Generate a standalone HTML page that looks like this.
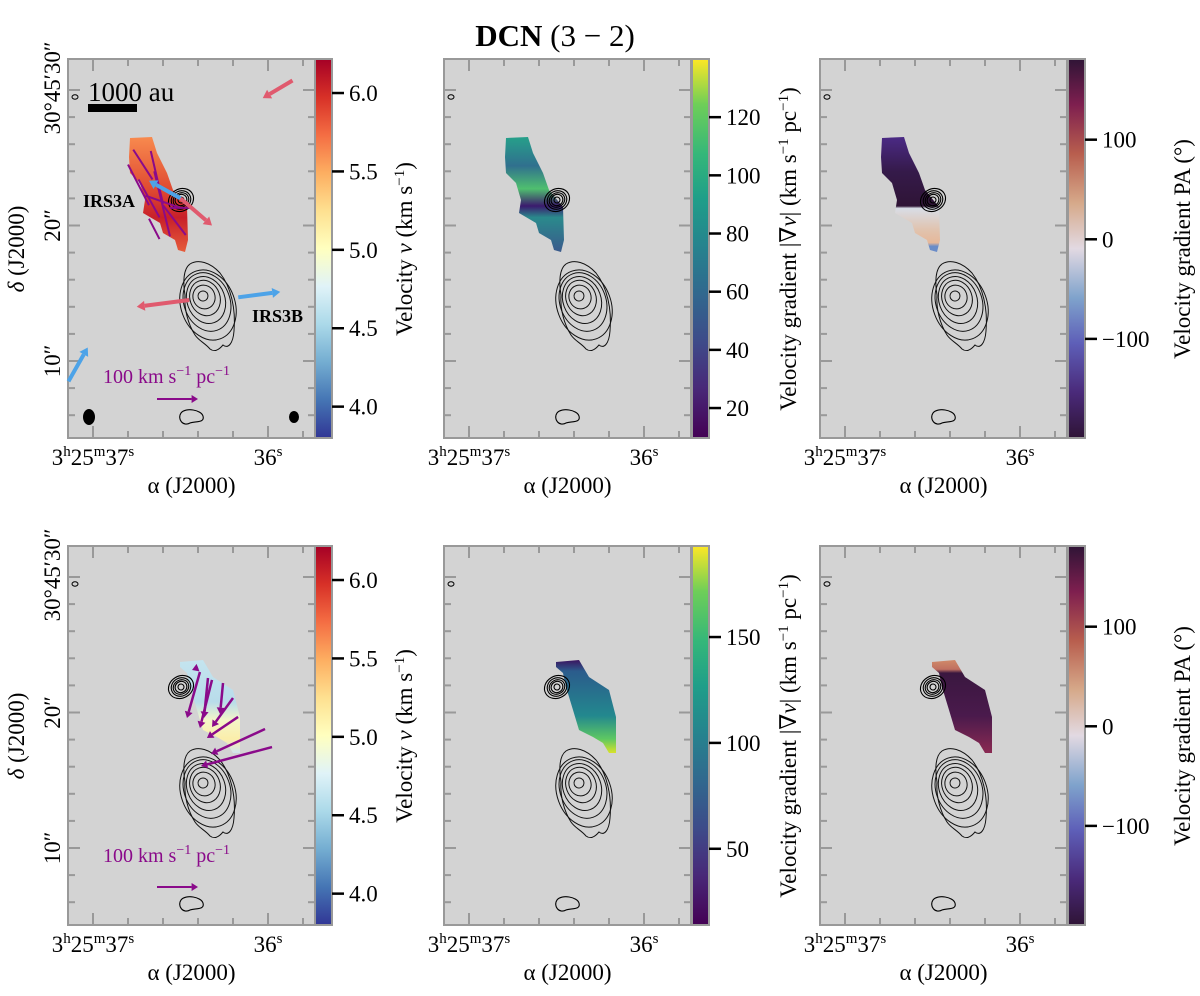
<!DOCTYPE html>
<html><head><meta charset="utf-8"><style>
html,body{margin:0;padding:0;background:#fff;}
svg{display:block;font-family:"Liberation Serif","DejaVu Serif",serif;}
</style></head><body>
<svg id="fig" width="1200" height="996" viewBox="0 0 1200 996" xmlns="http://www.w3.org/2000/svg">
<defs>
<linearGradient id="g-rdylbu" x1="0" y1="1" x2="0" y2="0">
<stop offset="0" stop-color="#313695"/><stop offset="0.1" stop-color="#4575b4"/><stop offset="0.2" stop-color="#74add1"/><stop offset="0.3" stop-color="#abd9e9"/><stop offset="0.4" stop-color="#e0f3f8"/><stop offset="0.5" stop-color="#ffffbf"/><stop offset="0.6" stop-color="#fee090"/><stop offset="0.7" stop-color="#fdae61"/><stop offset="0.8" stop-color="#f46d43"/><stop offset="0.9" stop-color="#d73027"/><stop offset="1" stop-color="#a50026"/></linearGradient>
<linearGradient id="g-viridis" x1="0" y1="1" x2="0" y2="0">
<stop offset="0" stop-color="#440154"/><stop offset="0.13" stop-color="#482878"/><stop offset="0.25" stop-color="#3e4a89"/><stop offset="0.38" stop-color="#31688e"/><stop offset="0.5" stop-color="#26828e"/><stop offset="0.63" stop-color="#1f9e89"/><stop offset="0.75" stop-color="#35b779"/><stop offset="0.88" stop-color="#6ece58"/><stop offset="1" stop-color="#fde725"/></linearGradient>
<linearGradient id="g-twilight" x1="0" y1="1" x2="0" y2="0">
<stop offset="0" stop-color="#2f1436"/><stop offset="0.12" stop-color="#4a2a7a"/><stop offset="0.25" stop-color="#5e5fb8"/><stop offset="0.37" stop-color="#7fa3cc"/><stop offset="0.5" stop-color="#e2d9e2"/><stop offset="0.62" stop-color="#d6a98a"/><stop offset="0.75" stop-color="#b85e4e"/><stop offset="0.88" stop-color="#7e1f4f"/><stop offset="1" stop-color="#2f1436"/></linearGradient>
<linearGradient id="b1" x1="0" y1="0" x2="0" y2="1"><stop offset="0" stop-color="#f88a4e"/><stop offset="0.45" stop-color="#e04b32"/><stop offset="0.7" stop-color="#c8202a"/><stop offset="1" stop-color="#e65c3a"/></linearGradient>
<linearGradient id="b2" x1="0" y1="0" x2="0" y2="1"><stop offset="0" stop-color="#26a08a"/><stop offset="0.25" stop-color="#30708e"/><stop offset="0.45" stop-color="#4fbf6f"/><stop offset="0.6" stop-color="#3b1a6e"/><stop offset="0.7" stop-color="#2a8a8c"/><stop offset="1" stop-color="#3a5a8c"/></linearGradient>
<linearGradient id="b3" x1="0" y1="0" x2="0" y2="1"><stop offset="0" stop-color="#4b2a85"/><stop offset="0.3" stop-color="#351a4a"/><stop offset="0.6" stop-color="#2f1436"/><stop offset="0.62" stop-color="#d8dde6"/><stop offset="0.8" stop-color="#e0c4b0"/><stop offset="0.92" stop-color="#e6b89a"/><stop offset="0.95" stop-color="#6a8cc8"/><stop offset="1" stop-color="#6a8cc8"/></linearGradient>
<linearGradient id="c1" x1="0" y1="0" x2="0" y2="1"><stop offset="0" stop-color="#c4e4ef"/><stop offset="0.45" stop-color="#b8dcea"/><stop offset="0.65" stop-color="#f4f6c8"/><stop offset="0.85" stop-color="#fbeeaa"/><stop offset="1" stop-color="#cfe6ef"/></linearGradient>
<linearGradient id="c2" x1="0" y1="0" x2="0" y2="1"><stop offset="0" stop-color="#3b1560"/><stop offset="0.12" stop-color="#2b5c8c"/><stop offset="0.6" stop-color="#23888e"/><stop offset="0.85" stop-color="#5ec862"/><stop offset="1" stop-color="#d8e22a"/></linearGradient>
<linearGradient id="c3" x1="0" y1="0" x2="0" y2="1"><stop offset="0" stop-color="#d08a6a"/><stop offset="0.1" stop-color="#c07060"/><stop offset="0.14" stop-color="#3a1740"/><stop offset="0.6" stop-color="#4a1a4c"/><stop offset="1" stop-color="#8a2a52"/></linearGradient>
</defs>
<g id="root"></g>
</svg>
<script>
// ---- data ----
const cbTicksV = [4.0, 4.5, 5.0, 5.5, 6.0];
const cbTicksV_labels = ["4.0","4.5","5.0","5.5","6.0"];
const cbDomainV = [3.80, 6.217];
const cbTicksGradTop = [20, 40, 60, 80, 100, 120];
const cbDomainGradTop = [9.7, 140];
const cbTicksGradBot = [50, 100, 150];
const cbDomainGradBot = [14, 193];
const cbTicksPA = [-100, 0, 100];
const cbTicksPA_labels = ["\u2212100","0","100"];
const cbDomainPA = [-199.5, 181];
const xTickVals = [37, 36];
const xMinorVals = [36.8, 36.6, 36.4, 36.2, 35.8];
const yTickVals = [30, 20, 10];
const yMinorVals = [28, 26, 24, 22, 18, 16, 14, 12, 8, 6, 4, 2];
// arrows in (RA s, Dec ") coords: [x0,y0,x1,y1,color]
const topArrows = [[35.86,30.7,36.03,29.4,"#e05a6e"],[36.50,22.0,36.68,23.3,"#4da3e8"],[36.50,22.0,36.32,20.0,"#e05a6e"],
 [36.45,14.5,36.75,14.0,"#e05a6e"],[36.17,14.7,35.93,15.1,"#4da3e8"],[37.14,8.5,37.03,11.0,"#4da3e8"]];
const topGradVecs = [[36.77,25.6,36.66,23.4],[36.67,25.5,36.60,21.6],[36.80,24.5,36.68,21.5],[36.65,24.0,36.56,19.2],
 [36.70,22.2,36.50,21.3],[36.60,21.5,36.47,19.3],[36.68,20.5,36.62,19.0],[36.56,21.3,36.43,21.3],[36.74,23.4,36.62,20.6]];
const botGradVecs = [[35.977,17.45,36.383,16.05],[36.017,18.78,36.326,16.94],[36.171,19.67,36.349,18.12],[36.2,21.07,36.32,18.93],
 [36.257,22.18,36.274,19.89],[36.32,22.40,36.389,18.86],[36.343,22.55,36.366,19.59],[36.389,22.99,36.463,19.59],[36.406,23.28,36.434,23.14]];

// ---- layout ----
const panelsX = [68, 444, 820];
const rowsY = [59, 546];
const PW = 247, PH = 379, CBW = 17;
const NS = "http://www.w3.org/2000/svg";
const root = document.getElementById('root');
function el(tag, attrs, parent){const e=document.createElementNS(NS,tag);for(const k in attrs)e.setAttribute(k,attrs[k]);(parent||root).appendChild(e);return e;}
function xs(ra){return 25 + (37-ra)*175;}
function ys(dec){return 31 + (30-dec)*13.55;}

function drawPanel(px, py, blobFill, row, idx){
  const g = el('g',{transform:`translate(${px},${py})`});
  
  
  el('rect',{x:0,y:0,width:PW,height:PH,fill:'#d3d3d3'},g);
  const blob = row===0
   ? [[62,79],[84,78],[89,94],[99,114],[105,131],[119,148],[120,181],[117,193],[110,191],[107,181],[95,174],[92,164],[75,154],[77,141],[72,124],[62,114],[61,98]]
   : [[112,116],[135,114],[145,131],[165,144],[172,171],[172,207],[165,207],[159,197],[149,191],[135,184],[129,164],[122,141],[119,127],[112,121]];
  const b = el('polygon',{points:blob.map(p=>p.join(',')).join(' '),fill:blobFill},g);
  
  
  const ca = el('g',{fill:'none',stroke:'#000','stroke-width':1.1},g);
  
  
  [[13,11],[10,9],[8,7],[6,5.5],[3,3]].forEach(r=>el('ellipse',{cx:113,cy:141,rx:r[0],ry:r[1],transform:'rotate(-30 113 141)'},ca));
  const cb = el('g',{fill:'none',stroke:'#111','stroke-width':1},g);
  
  
  el('path',{d:'M122,205 C130,200 142,203 152,214 C163,228 168,250 166,272 C165,285 160,290 155,286 C150,292 146,293 142,290 C137,284 131,282 127,276 C120,265 116,250 117,236 C115,224 115,210 122,205 Z'},cb);
  [[27,36,140,246],[23,30,139,243],[19,24,138,241],[15,18,137,239],[11,12,136,238],[5,5,135,237]].forEach(e=>el('ellipse',{cx:e[2],cy:e[3],rx:e[0],ry:e[1],transform:`rotate(-20 ${e[2]} ${e[3]})`},cb));
  el('path',{d:'M113,354 C118,348 133,351 135,357 C137,364 128,362 122,364 C115,368 109,360 113,354 Z',fill:'none',stroke:'#000','stroke-width':1.1},g);
  el('ellipse',{cx:7,cy:38,rx:3,ry:2.2,fill:'none',stroke:'#000','stroke-width':1},g);
  const t = el('g',{stroke:'#999','stroke-width':2},g);
  
  
  xTickVals.forEach(v=>{const x=xs(v);el('line',{x1:x,y1:0,x2:x,y2:12},t);el('line',{x1:x,y1:PH,x2:x,y2:PH-12},t);});
  xMinorVals.forEach(v=>{const x=xs(v);if(x>0&&x<PW){el('line',{x1:x,y1:0,x2:x,y2:7},t);el('line',{x1:x,y1:PH,x2:x,y2:PH-7},t);}});
  yTickVals.forEach(v=>{const y=ys(v);el('line',{x1:0,y1:y,x2:12,y2:y},t);el('line',{x1:PW,y1:y,x2:PW-12,y2:y},t);});
  yMinorVals.forEach(v=>{const y=ys(v);if(y>0&&y<PH){el('line',{x1:0,y1:y,x2:7,y2:y},t);el('line',{x1:PW,y1:y,x2:PW-7,y2:y},t);}});
  el('rect',{x:0,y:0,width:PW,height:PH,fill:'none',stroke:'#999','stroke-width':2},g);
  const xl1 = el('text',{x:xs(37),y:PH+27,'font-size':23,'text-anchor':'middle'},g);
  xl1.innerHTML = '3<tspan font-size="15" dy="-9">h</tspan><tspan dy="9">25</tspan><tspan font-size="15" dy="-9">m</tspan><tspan dy="9">37</tspan><tspan font-size="15" dy="-9">s</tspan>';
  
  
  const xl2 = el('text',{x:xs(36),y:PH+27,'font-size':23,'text-anchor':'middle'},g);
  xl2.innerHTML = '36<tspan font-size="15" dy="-9">s</tspan>';
  
  
  const xt = el('text',{x:PW/2,y:PH+55,'font-size':23,'text-anchor':'middle'},g);
  xt.textContent = 'α (J2000)';
  
  
  return g;
}

function drawColorbar(x, y, grad, domain, ticks, labels, name){
  const g = el('g',{});
  
  
  el('rect',{x:x,y:y,width:CBW,height:PH,fill:`url(#${grad})`,stroke:'#999','stroke-width':2},g);
  const sc = v => y + PH - (v-domain[0])/(domain[1]-domain[0])*PH;
  ticks.forEach((v,i)=>{
    const yy = sc(v);
    el('line',{x1:x+CBW,y1:yy,x2:x+CBW+12,y2:yy,stroke:'#000','stroke-width':2.5},g);
    const tx = el('text',{x:x+CBW+17,y:yy+8,'font-size':23},g);
    tx.textContent = labels ? labels[i] : String(v);
    
    
  });
}

function arrow(g, x0,y0,x1,y1,color,w,hw){
  const dx=x1-x0, dy=y1-y0, L=Math.hypot(dx,dy), ux=dx/L, uy=dy/L;
  const bx=x1-ux*hw*1.6, by=y1-uy*hw*1.6;
  el('line',{x1:x0,y1:y0,x2:bx,y2:by,stroke:color,'stroke-width':w},g);
  el('polygon',{points:`${x1},${y1} ${bx-uy*hw},${by+ux*hw} ${bx+uy*hw},${by-ux*hw}`,fill:color},g);
}

const fills = [['url(#b1)','url(#b2)','url(#b3)'],['url(#c1)','url(#c2)','url(#c3)']];
rowsY.forEach((py,r)=>panelsX.forEach((px,i)=>drawPanel(px,py,fills[r][i],r,i)));

drawColorbar(315,59,'g-rdylbu',cbDomainV,cbTicksV,cbTicksV_labels,'colorbar-velocity-top');
drawColorbar(692,59,'g-viridis',cbDomainGradTop,cbTicksGradTop,null,'colorbar-gradient-top');
drawColorbar(1068,59,'g-twilight',cbDomainPA,cbTicksPA,cbTicksPA_labels,'colorbar-pa-top');
drawColorbar(315,546,'g-rdylbu',cbDomainV,cbTicksV,cbTicksV_labels,'colorbar-velocity-bottom');
drawColorbar(692,546,'g-viridis',cbDomainGradBot,cbTicksGradBot,null,'colorbar-gradient-bottom');
drawColorbar(1068,546,'g-twilight',cbDomainPA,cbTicksPA,cbTicksPA_labels,'colorbar-pa-bottom');

const scaleHTML = '100 km s<tspan font-size="14" dy="-8">−1</tspan><tspan dy="8"> pc</tspan><tspan font-size="14" dy="-8">−1</tspan>';
(function(){
  const g = el('g',{transform:'translate(68,59)'});
  
  
  topGradVecs.forEach(v=>{
    const l = el('line',{x1:xs(v[0]),y1:ys(v[1]),x2:xs(v[2]),y2:ys(v[3]),stroke:'#8a0a8a','stroke-width':2},g);
    
    
  });
  topArrows.forEach(a=>arrow(g,xs(a[0]),ys(a[1]),xs(a[2]),ys(a[3]),a[4],4,5));
  arrow(g,89,340,130,340,'#8a0a8a',2,4);
  el('ellipse',{cx:21,cy:358,rx:6,ry:8,fill:'#000'},g);
  el('ellipse',{cx:226,cy:358,rx:5,ry:6,fill:'#000'},g);
  el('rect',{x:20,y:45,width:49,height:8,fill:'#000'},g);
  const s = el('text',{x:20,y:42,'font-size':27},g); s.textContent='1000 au';
   
  const a = el('text',{x:15,y:148,'font-size':18,'font-weight':'bold'},g); a.textContent='IRS3A';
   
  const bb = el('text',{x:184,y:263,'font-size':18,'font-weight':'bold'},g); bb.textContent='IRS3B';
   
  const k = el('text',{x:35,y:324,'font-size':20,fill:'#8a0a8a'},g);
  k.innerHTML=scaleHTML;
   
})();
(function(){
  const g = el('g',{transform:'translate(68,546)'});
  
  
  botGradVecs.forEach(v=>arrow(g,xs(v[0]),ys(v[1]),xs(v[2]),ys(v[3]),'#8a0a8a',2.5,4));
  arrow(g,89,341,130,341,'#8a0a8a',2,4);
  const k = el('text',{x:35,y:316,'font-size':20,fill:'#8a0a8a'},g);
  k.innerHTML=scaleHTML;
   
})();

function rtext(x,y,html,size,name){
  const t = el('text',{x:x,y:y,'font-size':size,'text-anchor':'middle',transform:`rotate(-90 ${x} ${y})`});
  t.innerHTML = html;
  
  
}
rowsY.forEach((py,r)=>{
  rtext(60,py+ys(30)-2,'30°45′30″',23,'y-tick-label-30');
  rtext(60,py+ys(20),'20″',23,'y-tick-label-20');
  rtext(60,py+ys(10),'10″',23,'y-tick-label-10');
  rtext(24,py+190,'<tspan font-style="italic">δ</tspan> (J2000)',23,'y-axis-title');
  rtext(412,py+190,'Velocity <tspan font-style="italic">v</tspan> (km s<tspan font-size="15" dy="-8">−1</tspan><tspan dy="8">)</tspan>',23,'colorbar-title-velocity');
  rtext(796,py+190,'Velocity gradient |∇<tspan font-style="italic">v</tspan>| (km s<tspan font-size="15" dy="-8">−1</tspan><tspan dy="8"> pc</tspan><tspan font-size="15" dy="-8">−1</tspan><tspan dy="8">)</tspan>',23,'colorbar-title-gradient');
  rtext(1190,py+190,'Velocity gradient PA (°)',23,'colorbar-title-pa');
});
const title = el('text',{x:555,y:46,'font-size':31,'text-anchor':'middle','font-weight':'bold'});
title.innerHTML = 'DCN <tspan font-weight="normal">(3 − 2)</tspan>';


</script>
</body></html>
